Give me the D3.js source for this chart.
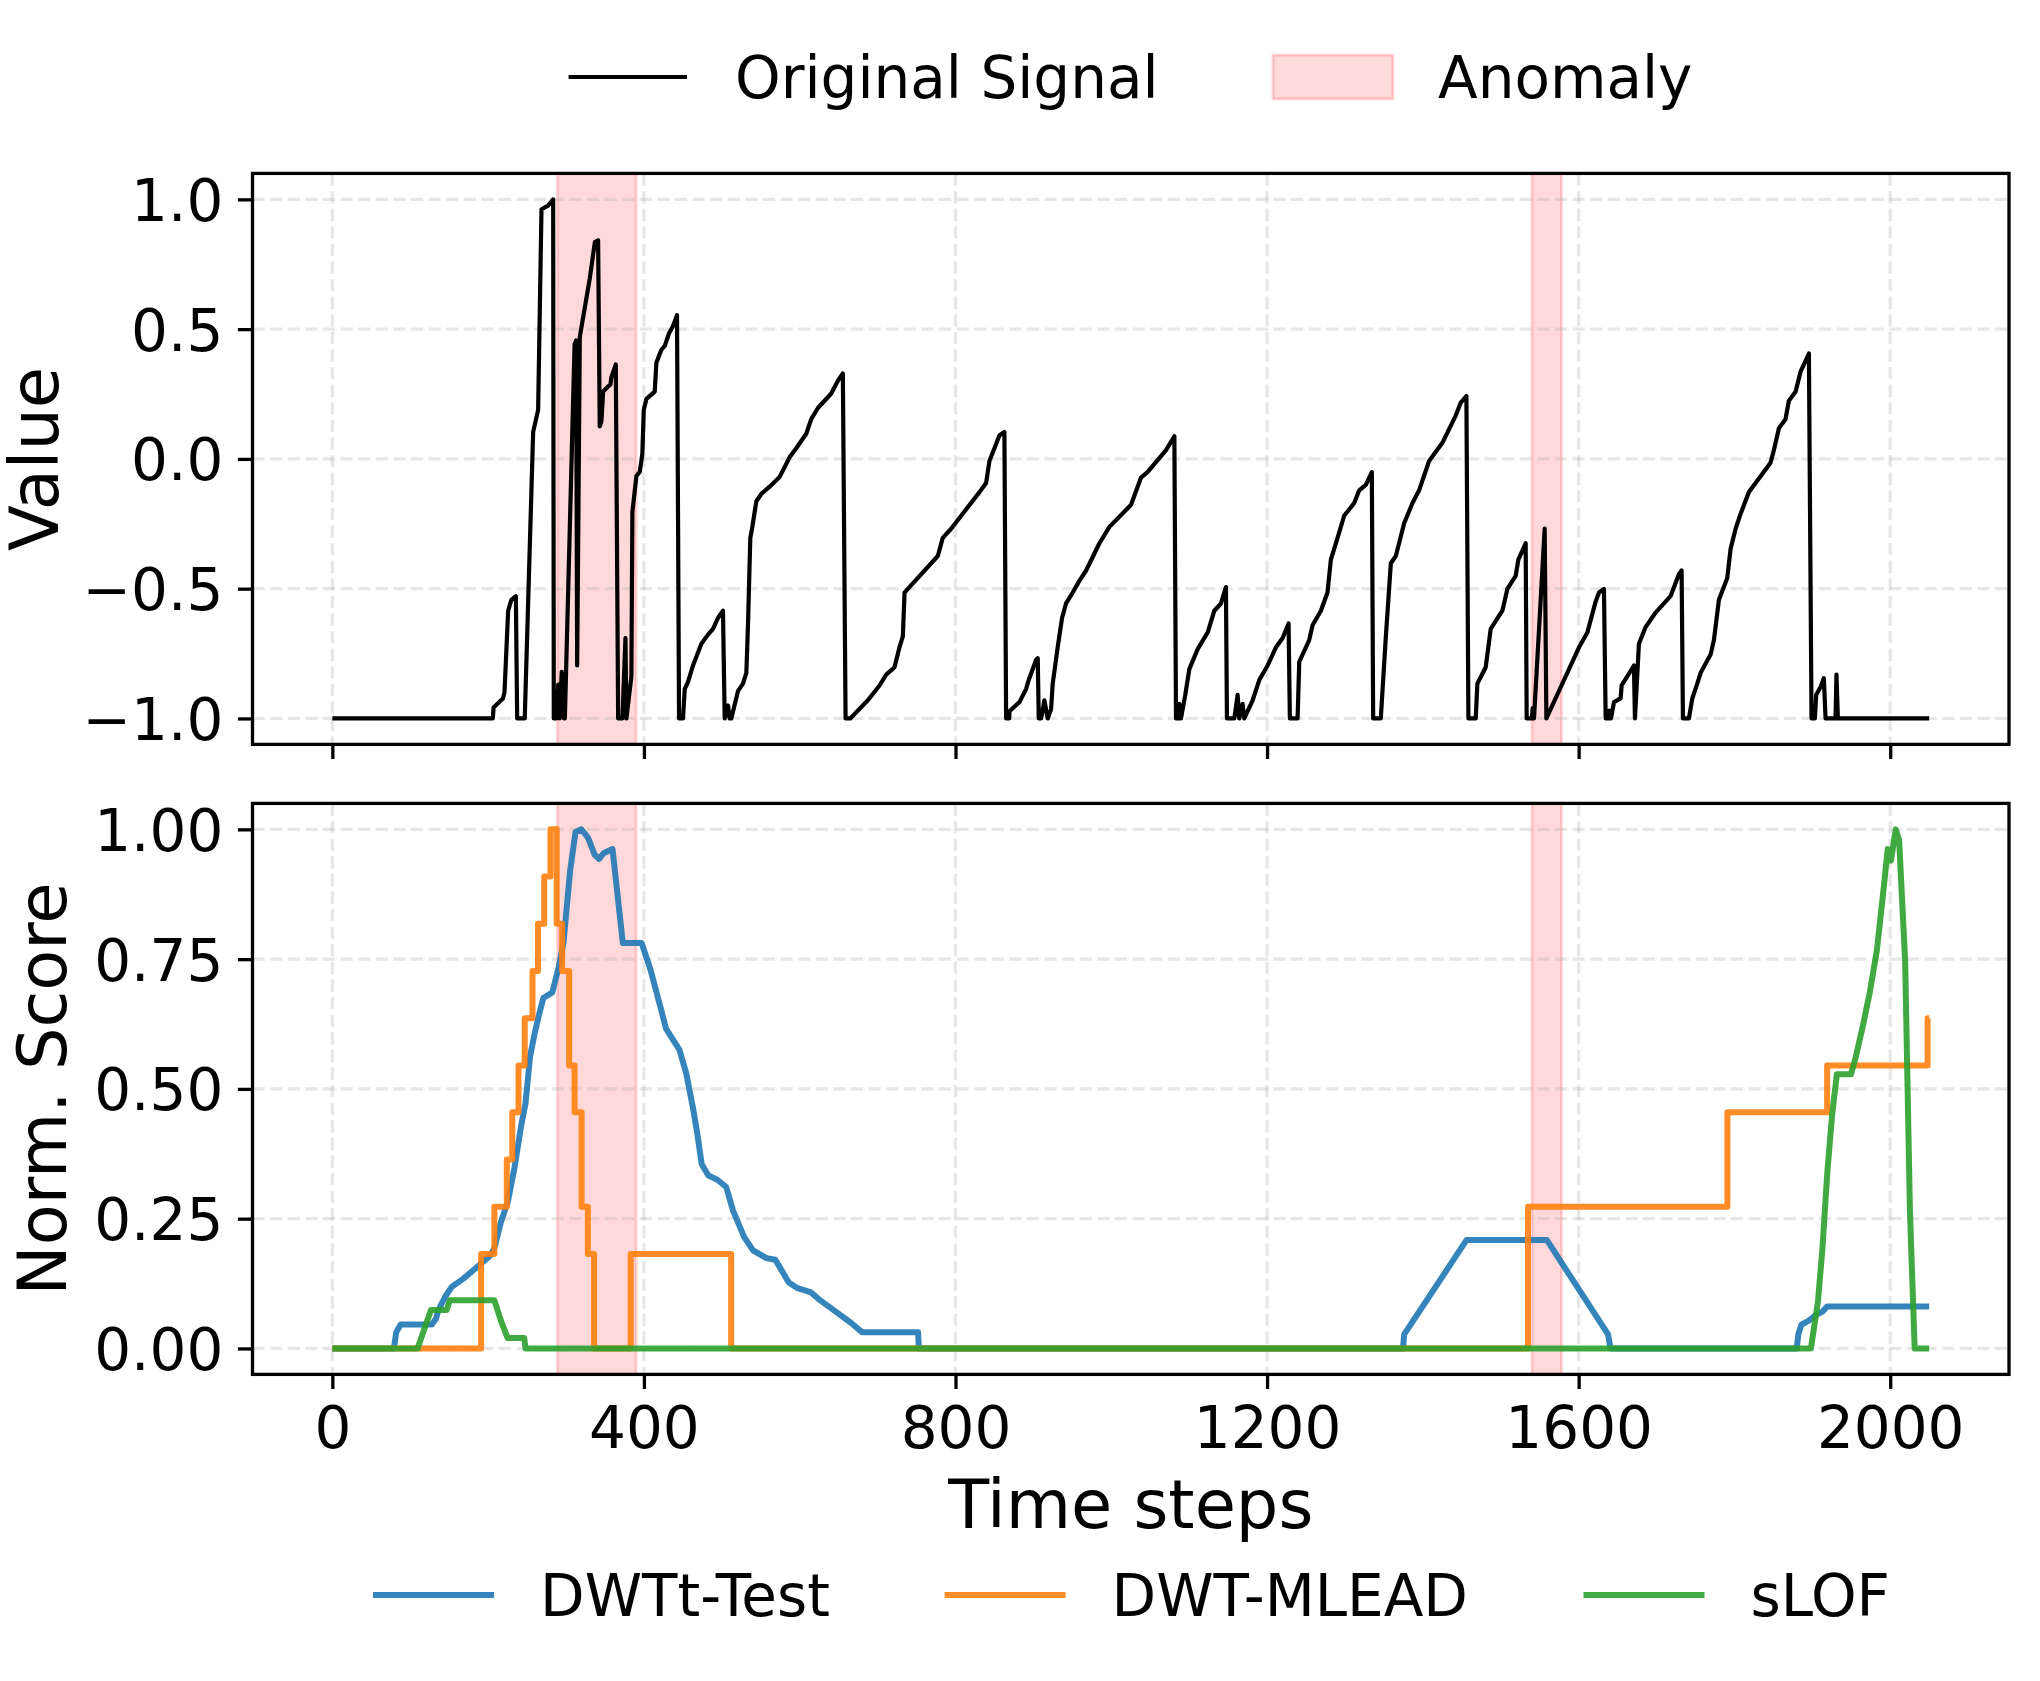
<!DOCTYPE html>
<html>
<head>
<meta charset="utf-8">
<script src="https://cdn.jsdelivr.net/npm/d3@7"></script>
<style>
  body { margin: 0; background: #fff; }
  svg { display: block; }
  text { font-family: "DejaVu Sans", sans-serif; fill: #000; }
</style>
</head>
<body>
<div id="chart"></div>
<script>
// original signal, breakpoints (time step, value)
var sigT = [0,206,207,219,221,225.7,229.8,235.6,237.3,247,257.8,264.2,268.5,277,283.5,284.3,288,290,292,294.5,297.5,298.5,311,313,314.3,317.7,330.5,337,341.2,343.3,345.5,347.6,352,357,358.3,363.9,366.9,372.4,376.3,377.5,383.9,385.2,390.4,394.7,398,399.8,403.2,413.9,416,422.4,426.7,432.3,437.4,442.5,445.1,450.2,452.4,456.6,463,473.8,482.3,488.7,495.1,501.5,503.7,508,510,512.2,520.8,527.2,531.5,533.6,536.6,539.2,544.3,550.7,561.4,574.2,587,595.6,608.4,614.8,623.4,640.5,649,655.4,658.9,664.9,687.5,702.5,711,721.7,728.1,732.4,734.6,740.9,777.3,783.7,794.4,830.8,839.3,843.6,856.4,862.8,865,869,869.3,882.1,890.6,894,903.4,905.6,906.9,910,914.1,918.4,922.7,924.8,931.2,936.8,941.9,950.5,959,967.7,984.8,997.6,1025.4,1038.2,1046.8,1070.3,1081,1083.1,1087,1087.4,1089.5,1095,1100.2,1110.9,1123.7,1132.3,1140.8,1147.2,1148.5,1158,1162.2,1164.3,1168.6,1170.8,1181.5,1190,1200.7,1211.4,1220,1227.6,1229.3,1239.2,1241.3,1254.1,1258.4,1269.1,1277.6,1281.9,1290.5,1299,1311.9,1318.3,1326.8,1334.5,1336.2,1346,1352.5,1358.9,1365.3,1376,1386.7,1395.2,1408,1425.1,1442.2,1448.7,1455.9,1458.5,1467.9,1470,1480.7,1487.1,1502.1,1508.5,1519.2,1522.6,1532,1533.3,1540,1541,1542.7,1556.4,1558.6,1600.5,1611.2,1621.8,1626.1,1632.5,1634.7,1639,1639.3,1641.5,1645.4,1653.9,1655.2,1662.5,1671,1672.3,1677.4,1686,1698.8,1718,1728.7,1732.2,1733.9,1741.6,1745.9,1752.3,1756.6,1769.4,1773.7,1780.1,1790.8,1795.1,1801.5,1807.9,1818.6,1846.4,1850.7,1857.1,1865.6,1869.9,1878.5,1884.9,1891.3,1895.6,1899,1903.3,1905,1910.5,1914.8,1917,1929.8,1931,1932.8,2050];
var sigV = [-1,-1,-0.958,-0.923,-0.9,-0.585,-0.543,-0.529,-1,-1,0.104,0.189,0.962,0.976,1.0,-1,-1,-0.87,-1,-0.82,-1,-1,0.442,0.456,-0.796,0.47,0.695,0.835,0.842,0.125,0.146,0.259,0.273,0.287,0.315,0.364,-1,-1,-0.69,-1,-0.838,-0.205,-0.065,-0.05,0.02,0.188,0.231,0.259,0.371,0.42,0.435,0.484,0.512,0.554,-1,-1,-0.887,-0.859,-0.796,-0.712,-0.677,-0.655,-0.613,-0.585,-1,-0.95,-1,-1,-0.894,-0.866,-0.824,-0.641,-0.304,-0.262,-0.163,-0.135,-0.107,-0.07,0.006,0.041,0.097,0.153,0.196,0.252,0.301,0.329,-1,-1,-0.93,-0.873,-0.831,-0.803,-0.726,-0.684,-0.515,-0.494,-0.374,-0.304,-0.269,-0.128,-0.093,-0.008,0.09,0.104,-1,-1,-0.972,-0.937,-0.887,-0.852,-0.775,-0.768,-1,-1,-0.93,-1,-0.965,-0.866,-0.726,-0.613,-0.557,-0.515,-0.47,-0.43,-0.325,-0.262,-0.177,-0.072,-0.05,0.034,0.087,-1,-1,-0.944,-1,-0.909,-0.81,-0.733,-0.669,-0.585,-0.557,-0.494,-1,-1,-0.909,-1,-0.944,-1,-0.93,-0.852,-0.796,-0.726,-0.69,-0.634,-1,-1,-0.782,-0.698,-0.641,-0.585,-0.515,-0.388,-0.304,-0.219,-0.17,-0.121,-0.1,-0.051,-1,-1,-0.684,-0.402,-0.374,-0.248,-0.17,-0.121,-0.008,0.062,0.167,0.217,0.242,-1,-1,-0.866,-0.803,-0.655,-0.585,-0.501,-0.451,-0.388,-0.325,-1,-1,-0.96,-1,-0.269,-1,-0.726,-0.669,-0.55,-0.515,-0.501,-1,-1,-0.97,-1,-0.937,-0.923,-0.873,-0.838,-0.796,-1,-0.712,-0.648,-0.592,-0.529,-0.444,-0.43,-1,-1,-0.923,-0.866,-0.824,-0.754,-0.698,-0.543,-0.459,-0.346,-0.269,-0.212,-0.128,-0.015,0.034,0.118,0.153,0.224,0.259,0.336,0.378,0.406,-1,-1,-0.909,-0.88,-0.845,-1,-1,-0.831,-1,-1];

// DWTt-Test score
var dwttT = [0,79,82,87.7,127.8,133,136.4,145,153.5,167.9,185,202.2,208,216.5,225.1,233.7,242.3,248,253.7,259.5,265.2,270.9,282.4,291,296.7,305.3,312.2,319.6,328.2,336.8,342.5,348.2,359.7,372.9,397,408.4,422.7,428.4,445.6,454.2,462.8,468.5,474.2,482.8,494.3,505.7,514.3,528.6,540.1,557.3,568.7,577.3,585.9,597.4,614.6,626,648.9,666.1,680.4,752,753,1374.5,1376,1456.2,1559.1,1637.8,1640.9,1880,1882,1886,1895,1904,1913,1919.3,2050];
var dwttV = [0,0,0.031,0.046,0.046,0.057,0.075,0.1,0.119,0.134,0.156,0.178,0.193,0.244,0.281,0.347,0.428,0.472,0.561,0.605,0.642,0.675,0.686,0.737,0.781,0.921,0.995,1.0,0.984,0.951,0.943,0.954,0.962,0.781,0.781,0.73,0.649,0.616,0.575,0.531,0.465,0.414,0.355,0.333,0.325,0.311,0.266,0.215,0.189,0.174,0.171,0.149,0.127,0.116,0.108,0.093,0.068,0.049,0.031,0.031,0,0,0.027,0.209,0.209,0.027,0,0,0.027,0.046,0.053,0.064,0.071,0.081,0.081];

// DWT-MLEAD score (step changes: level holds from each time on)
var mleadT = [0,191,208,224,231,239,247,257,264,272,280,288,295,304,311,320,328,336,383,512,1535,1791,1919,2048,2050];
var mleadV = [0,0.182,0.273,0.364,0.455,0.545,0.636,0.727,0.818,0.909,1.0,0.818,0.727,0.545,0.455,0.273,0.182,0,0.182,0,0.273,0.455,0.545,0.636,0.636];

// sLOF score
var slofT = [0,109.4,126.6,146.7,150.7,208,216.5,225.1,246.3,248,1898.2,1907.2,1913,1919.3,1925.4,1931.5,1949.6,1955.7,1964.7,1973.8,1982.9,1992,1996.8,2001,2007.1,2011.4,2019.2,2025.3,2031.4,2050];
var slofV = [0,0,0.074,0.074,0.093,0.093,0.053,0.02,0.02,0,0,0.09,0.193,0.34,0.45,0.528,0.528,0.561,0.62,0.686,0.767,0.892,0.962,0.94,1.0,0.98,0.745,0.266,0,0];

var anomalies = [[289, 390], [1540, 1578]];

var xTicks = [0, 400, 800, 1200, 1600, 2000];
var y1Ticks = [-1, -0.5, 0, 0.5, 1];
var y2Ticks = [0, 0.25, 0.5, 0.75, 1];

var W = 2040, H = 1681;
var L = 252.5, R = 2009;
var top1 = 173.4, bot1 = 744.4, top2 = 803.4, bot2 = 1374.4;
var tickLen = 14.6, pad = 14.6, lwAxis = 3.3;
var fs = 58, fsLab = 67;

var svg = d3.select("#chart").append("svg")
	.attr("width", W)
	.attr("height", H);

var x = d3.scaleLinear().domain([-102.5, 2152.5]).range([L, R]);
var y1 = d3.scaleLinear().domain([-1.1, 1.1]).range([bot1, top1]);
var y2 = d3.scaleLinear().domain([-0.05, 1.05]).range([bot2, top2]);

var colors = {dwtt: "#1f77b4", mlead: "#ff7f0e", slof: "#2ca02c"};

function zip(a, b) {
	return a.map(function(d, i) { return [d, b[i]]; });
}

function panel(yScale, yTicks, yFmt, top, bot, showXLabels) {
	var g = svg.append("g");

	// anomaly spans
	g.selectAll("rect.span")
		.data(anomalies)
		.enter()
		.append("rect")
		.attr("class", "span")
		.attr("x", function(d) { return x(d[0]); })
		.attr("width", function(d) { return x(d[1]) - x(d[0]); })
		.attr("y", top)
		.attr("height", bot - top)
		.attr("fill", "red")
		.attr("fill-opacity", 0.15)
		.attr("stroke", "red")
		.attr("stroke-opacity", 0.15)
		.attr("stroke-width", 3);

	// grid
	var grid = g.append("g")
		.attr("stroke", "#b0b0b0")
		.attr("stroke-opacity", 0.3)
		.attr("stroke-width", 3.3)
		.attr("stroke-dasharray", "12.3,5.3");
	grid.selectAll("line.gx")
		.data(xTicks)
		.enter()
		.append("line")
		.attr("x1", function(d) { return x(d); })
		.attr("x2", function(d) { return x(d); })
		.attr("y1", top)
		.attr("y2", bot);
	grid.selectAll("line.gy")
		.data(yTicks)
		.enter()
		.append("line")
		.attr("class", "gy")
		.attr("x1", L)
		.attr("x2", R)
		.attr("y1", function(d) { return yScale(d); })
		.attr("y2", function(d) { return yScale(d); });

	// y axis
	var ya = g.append("g")
		.attr("transform", "translate(" + L + ",0)")
		.call(d3.axisLeft(yScale).tickValues(yTicks).tickFormat(d3.format(yFmt))
			.tickSizeInner(tickLen).tickSizeOuter(0).tickPadding(pad));
	ya.select(".domain").remove();
	ya.selectAll(".tick line").attr("stroke", "#000").attr("stroke-width", lwAxis);
	ya.selectAll(".tick text")
		.attr("font-size", fs)
		.attr("font-family", "DejaVu Sans")
		.attr("fill", "#000")
		.attr("dy", "0.36em");

	// x axis
	var xa = g.append("g")
		.attr("transform", "translate(0," + bot + ")")
		.call(d3.axisBottom(x).tickValues(xTicks).tickFormat(showXLabels ? d3.format("d") : "")
			.tickSizeInner(tickLen).tickSizeOuter(0).tickPadding(pad));
	xa.select(".domain").remove();
	xa.selectAll(".tick line").attr("stroke", "#000").attr("stroke-width", lwAxis);
	xa.selectAll(".tick text")
		.attr("font-size", fs)
		.attr("font-family", "DejaVu Sans")
		.attr("fill", "#000")
		.attr("dy", "0.76em");

	return g;
}

var g1 = panel(y1, y1Ticks, ".1f", top1, bot1, false);
var g2 = panel(y2, y2Ticks, ".2f", top2, bot2, true);

var line1 = d3.line()
	.x(function(d) { return x(d[0]); })
	.y(function(d) { return y1(d[1]); });
var line2 = d3.line()
	.x(function(d) { return x(d[0]); })
	.y(function(d) { return y2(d[1]); });

g1.append("path")
	.attr("d", line1(zip(sigT, sigV)))
	.attr("fill", "none")
	.attr("stroke", "#000")
	.attr("stroke-width", 4.2)
	.attr("stroke-linejoin", "round");

var scores = [
	{name: "DWTt-Test", t: dwttT, v: dwttV, c: colors.dwtt, curve: d3.curveLinear},
	{name: "DWT-MLEAD", t: mleadT, v: mleadV, c: colors.mlead, curve: d3.curveStepAfter},
	{name: "sLOF", t: slofT, v: slofV, c: colors.slof, curve: d3.curveLinear}
];

scores.forEach(function(s) {
	g2.append("path")
		.attr("d", line2.curve(s.curve)(zip(s.t, s.v)))
		.attr("fill", "none")
		.attr("stroke", s.c)
		.attr("stroke-opacity", 0.9)
		.attr("stroke-width", 6)
		.attr("stroke-linejoin", "round");
});

// frames
[[top1, bot1], [top2, bot2]].forEach(function(p) {
	svg.append("rect")
		.attr("x", L)
		.attr("y", p[0])
		.attr("width", R - L)
		.attr("height", p[1] - p[0])
		.attr("fill", "none")
		.attr("stroke", "#000")
		.attr("stroke-width", lwAxis);
});

// axis labels
svg.append("text")
	.attr("transform", "translate(58," + ((top1 + bot1) / 2) + ") rotate(-90)")
	.attr("text-anchor", "middle")
	.attr("font-size", fsLab)
	.text("Value");
svg.append("text")
	.attr("transform", "translate(66," + ((top2 + bot2) / 2) + ") rotate(-90)")
	.attr("text-anchor", "middle")
	.attr("font-size", fsLab)
	.text("Norm. Score");
svg.append("text")
	.attr("x", (L + R) / 2)
	.attr("y", 1528)
	.attr("text-anchor", "middle")
	.attr("font-size", fsLab)
	.text("Time steps");

// top legend
svg.append("line")
	.attr("x1", 568.6).attr("x2", 687)
	.attr("y1", 77).attr("y2", 77)
	.attr("stroke", "#000").attr("stroke-width", 4.2);
svg.append("text")
	.attr("x", 735).attr("y", 98)
	.attr("font-size", fs)
	.text("Original Signal");
svg.append("rect")
	.attr("x", 1273).attr("y", 55)
	.attr("width", 120).attr("height", 44)
	.attr("fill", "red").attr("fill-opacity", 0.15)
	.attr("stroke", "red").attr("stroke-opacity", 0.15).attr("stroke-width", 3);
svg.append("text")
	.attr("x", 1438).attr("y", 98)
	.attr("font-size", fs)
	.text("Anomaly");

// bottom legend
var legX = [373, 944.6, 1583.5];
scores.forEach(function(s, i) {
	svg.append("line")
		.attr("x1", legX[i]).attr("x2", legX[i] + 121)
		.attr("y1", 1595).attr("y2", 1595)
		.attr("stroke", s.c).attr("stroke-opacity", 0.9).attr("stroke-width", 6);
	svg.append("text")
		.attr("x", legX[i] + 167).attr("y", 1616)
		.attr("font-size", fs)
		.text(s.name);
});
</script>
</body>
</html>
